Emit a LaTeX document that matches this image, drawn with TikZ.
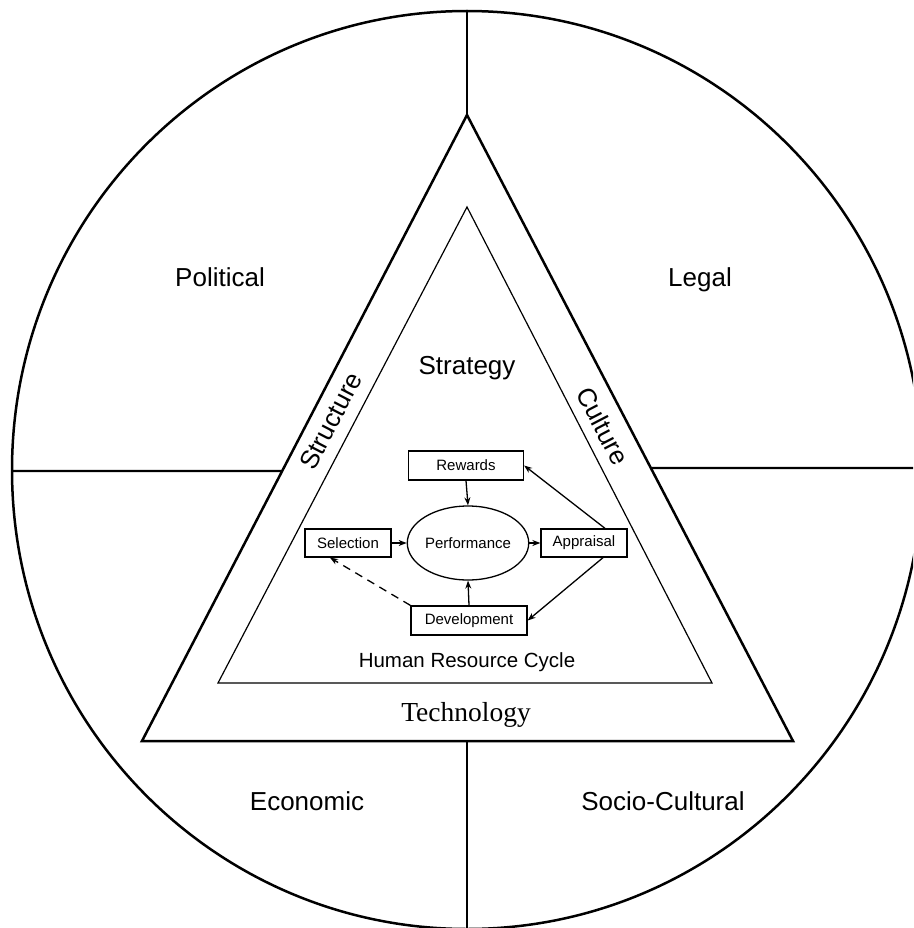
\documentclass[tikz,border=0pt]{standalone}
\usepackage{fontspec}
\setmainfont{Liberation Sans}
\newfontfamily\timesf{Liberation Serif}
\usetikzlibrary{shapes.geometric,arrows.meta,calc}
\tikzset{
  big/.style={font=\fontsize{26}{30}\selectfont},
  mid/.style={font=\fontsize{20.5}{24}\selectfont},
  boxn/.style={draw,line width=1.3pt,inner sep=0pt,font=\fontsize{15}{18}\selectfont},
  conn/.style={line width=1.3pt,-{Stealth[length=8pt,width=6pt]}},
  thickl/.style={line width=2.5pt},
}
\begin{document}
\begin{tikzpicture}[x=1pt,y=-1pt]
\useasboundingbox (0,0) rectangle (913,928);
\clip (0,0) rectangle (913,928);
% outer circle
\draw[thickl] (467,470) ellipse [x radius=455, y radius=459];
% triangles
\coordinate (A) at (467,115);
\coordinate (B) at (142,741);
\coordinate (C) at (793,741);
\coordinate (a) at (467,207);
\coordinate (b) at (218,683);
\coordinate (c) at (712,683);
\draw[thickl,line join=miter] (A) -- (B) -- (C) -- cycle;
\draw[line width=1.2pt] (a) -- (b) -- (c) -- cycle;
% dividing lines
\coordinate (ctop) at (467,11);
\coordinate (cbot) at (467,928);
\coordinate (cleft) at (12,471);
\coordinate (cright) at (913,468);
\draw[line width=1.6pt] (ctop) -- (A);
\draw[line width=2pt] (B -| cbot) -- (cbot);
\draw[line width=2.2pt] (cleft) -- ($(A)!{(471-115)/626}!(B)$);
\draw[line width=2.2pt] ($(A)!{(468-115)/626}!(C)$) -- (cright);
% region labels
\node[big,anchor=base] (pol) at (220,286) {Political};
\node[big,anchor=base] (leg) at (700,286) {Legal};
\node[big,anchor=base] (eco) at (307,810) {Economic};
\node[big,anchor=base] (soc) at (663,810) {Socio-Cultural};
% triangle labels
\node[big] (strat) at (467,368) {Strategy};
\node[big,rotate=62.5] (struc) at (331,421) {Structure};
\node[big,rotate=-62.5] (cult) at (603,426) {Culture};
\node[mid] (hrc) at (467,662) {Human Resource Cycle};
\node[font=\timesf\fontsize{27.5}{30}\selectfont] (tech) at (466,715) {Technology};
% HR cycle
\node[boxn,minimum width=115pt,minimum height=29pt] (rew) at (466,465.5) {Rewards};
\node[draw,ellipse,line width=1.3pt,minimum width=101pt,minimum height=74pt,inner sep=0pt,font=\fontsize{15}{18}\selectfont] (perf) at (468,543) {Performance};
\node[boxn,minimum width=86pt,minimum height=28pt] (sel) at (348,543) {Selection};
\node[boxn,minimum width=86pt,minimum height=28pt] (app) at (584,543) {Appraisal};
\node[boxn,minimum width=116pt,minimum height=29pt] (dev) at (469,620.5) {Development};
\draw[conn] (rew.south) -- (perf.north);
\draw[conn] (sel.east) -- (perf.west);
\draw[conn] (perf.east) -- (app.west);
\draw[conn] (dev.north) -- (perf.south);
\draw[conn] ([xshift=21pt]app.north) -- (rew.east);
\draw[conn] ([xshift=19pt]app.south) -- (dev.east);
\draw[conn,dashed,dash pattern=on 8pt off 6pt] (dev.north west) -- ([xshift=-18pt]sel.south);
\end{tikzpicture}
\end{document}
